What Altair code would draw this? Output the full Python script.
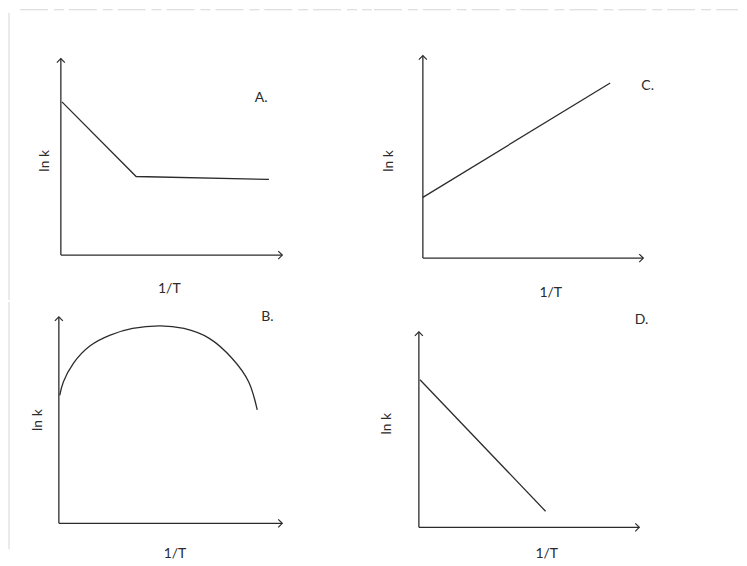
import altair as alt
import pandas as pd

# ---- data (in axis units: origin at 0, arrow tips at 10) ----
A_x = [0.05, 3.4, 9.4]
A_y = [7.8, 4.0, 3.85]

C_x = [0.0, 8.5]
C_y = [3.0, 8.65]

B_x = [0.04, 0.2, 0.65, 1.4, 2.3, 3.3, 4.5, 5.6, 6.75, 7.75, 8.5, 8.88]
B_y = [6.2, 6.85, 7.75, 8.6, 9.12, 9.44, 9.57, 9.44, 8.95, 8.0, 6.85, 5.5]

D_x = [0.05, 5.75]
D_y = [7.55, 0.82]

panel_letters = ["A.", "C.", "B.", "D."]
y_title = "ln k"
x_title = "1/T"

INK = "#2b2b2b"
FAINT = "#d6d6d6"
FONT = "Lato"
FS = 14

# layout geometry (page pixels): cell offset/size, axis origin, x-arrow end, y-arrow top
W = 365
H_TOP, H_BOT = 292, 258
geom = {
    "A": dict(off=(8, 8), size=(W, H_TOP), origin=(61, 255), xend=283, ytop=58,
              letter=(9.05, 8.0), ylab=(-0.72, 4.8), xlab=(4.9, -1.75)),
    "C": dict(off=(373, 8), size=(W, H_TOP), origin=(422, 258), xend=643, ytop=55,
              letter=(10.2, 8.5), ylab=(-1.54, 4.8), xlab=(5.8, -1.72)),
    "B": dict(off=(8, 300), size=(W, H_BOT), origin=(59, 522), xend=283, ytop=315,
              letter=(9.33, 10.0), ylab=(-0.94, 5.0), xlab=(5.2, -1.5)),
    "D": dict(off=(373, 300), size=(W, H_BOT), origin=(420, 526), xend=641, ytop=330,
              letter=(10.1, 10.6), ylab=(-1.45, 5.3), xlab=(5.8, -1.38)),
}


def domains(g):
    offx, offy = g["off"]
    w, h = g["size"]
    ox, oy = g["origin"]
    ux = (g["xend"] - ox) / 10.0
    uy = (oy - g["ytop"]) / 10.0
    xd = [(offx - ox) / ux, (offx + w - ox) / ux]
    yd = [(oy - (offy + h)) / uy, (oy - offy) / uy]
    return xd, yd


def panel(key, xs, ys, letter, curved=False, top_edge=False, left_edge=False):
    g = geom[key]
    xd, yd = domains(g)
    xs_ = alt.Scale(domain=xd, zero=False, nice=False)
    ys_ = alt.Scale(domain=yd, zero=False, nice=False)
    X = lambda f: alt.X(f, scale=xs_, axis=None)
    Y = lambda f: alt.Y(f, scale=ys_, axis=None)

    axes = pd.DataFrame({"x": [0, 0], "y": [0, 0], "x2": [10, 0], "y2": [0, 10]})
    rules = alt.Chart(axes).mark_rule(color=INK, strokeWidth=1.3).encode(
        x=X("x:Q"), y=Y("y:Q"), x2="x2:Q", y2="y2:Q",
    )
    up = alt.Chart(pd.DataFrame({"x": [0], "y": [10]})).mark_point(
        shape="M -1 1 L 0 0 L 1 1", filled=False, size=64, color=INK, strokeWidth=1.2, opacity=1
    ).encode(x=X("x:Q"), y=Y("y:Q"))
    right = alt.Chart(pd.DataFrame({"x": [10], "y": [0]})).mark_point(
        shape="M -1 -1 L 0 0 L -1 1", filled=False, size=64, color=INK, strokeWidth=1.2, opacity=1
    ).encode(x=X("x:Q"), y=Y("y:Q"))

    df = pd.DataFrame({"x": xs, "y": ys, "o": list(range(len(xs)))})
    line = alt.Chart(df).mark_line(
        color=INK, strokeWidth=1.3, interpolate="natural" if curved else "linear"
    ).encode(x=X("x:Q"), y=Y("y:Q"), order="o:Q")

    def label(pos, txt, **kw):
        return alt.Chart(pd.DataFrame({"x": [pos[0]], "y": [pos[1]], "t": [txt]})).mark_text(
            font=FONT, fontSize=FS, color=INK, align="center", baseline="middle", **kw
        ).encode(x=X("x:Q"), y=Y("y:Q"), text="t:N")

    layers = [rules, up, right, line,
              label(g["letter"], letter),
              label(g["ylab"], y_title, angle=270),
              label(g["xlab"], x_title)]

    # faint scanned-page edges
    if top_edge:
        layers.append(alt.Chart(pd.DataFrame({"a": [0]})).mark_rule(
            color=FAINT, strokeWidth=1, strokeDash=[28, 6, 10, 5]
        ).encode(x=alt.value(12 if key == "A" else 0), x2=alt.value(W), y=alt.value(1)))
    if left_edge:
        layers.append(alt.Chart(pd.DataFrame({"a": [0]})).mark_rule(
            color=FAINT, strokeWidth=1
        ).encode(x=alt.value(1), y=alt.value(4 if key == "A" else 0),
                 y2=alt.value(g["size"][1] - (0 if key == "A" else 10))))

    return alt.layer(*layers).properties(width=g["size"][0], height=g["size"][1])


pA = panel("A", A_x, A_y, panel_letters[0], top_edge=True, left_edge=True)
pC = panel("C", C_x, C_y, panel_letters[1], top_edge=True)
pB = panel("B", B_x, B_y, panel_letters[2], curved=True, left_edge=True)
pD = panel("D", D_x, D_y, panel_letters[3])

chart = alt.vconcat(
    alt.hconcat(pA, pC, spacing=0),
    alt.hconcat(pB, pD, spacing=0),
    spacing=0,
).properties(padding=0, background="white").configure_view(stroke=None)

chart.save("out.html", embed_options={"renderer": "svg", "actions": False})
